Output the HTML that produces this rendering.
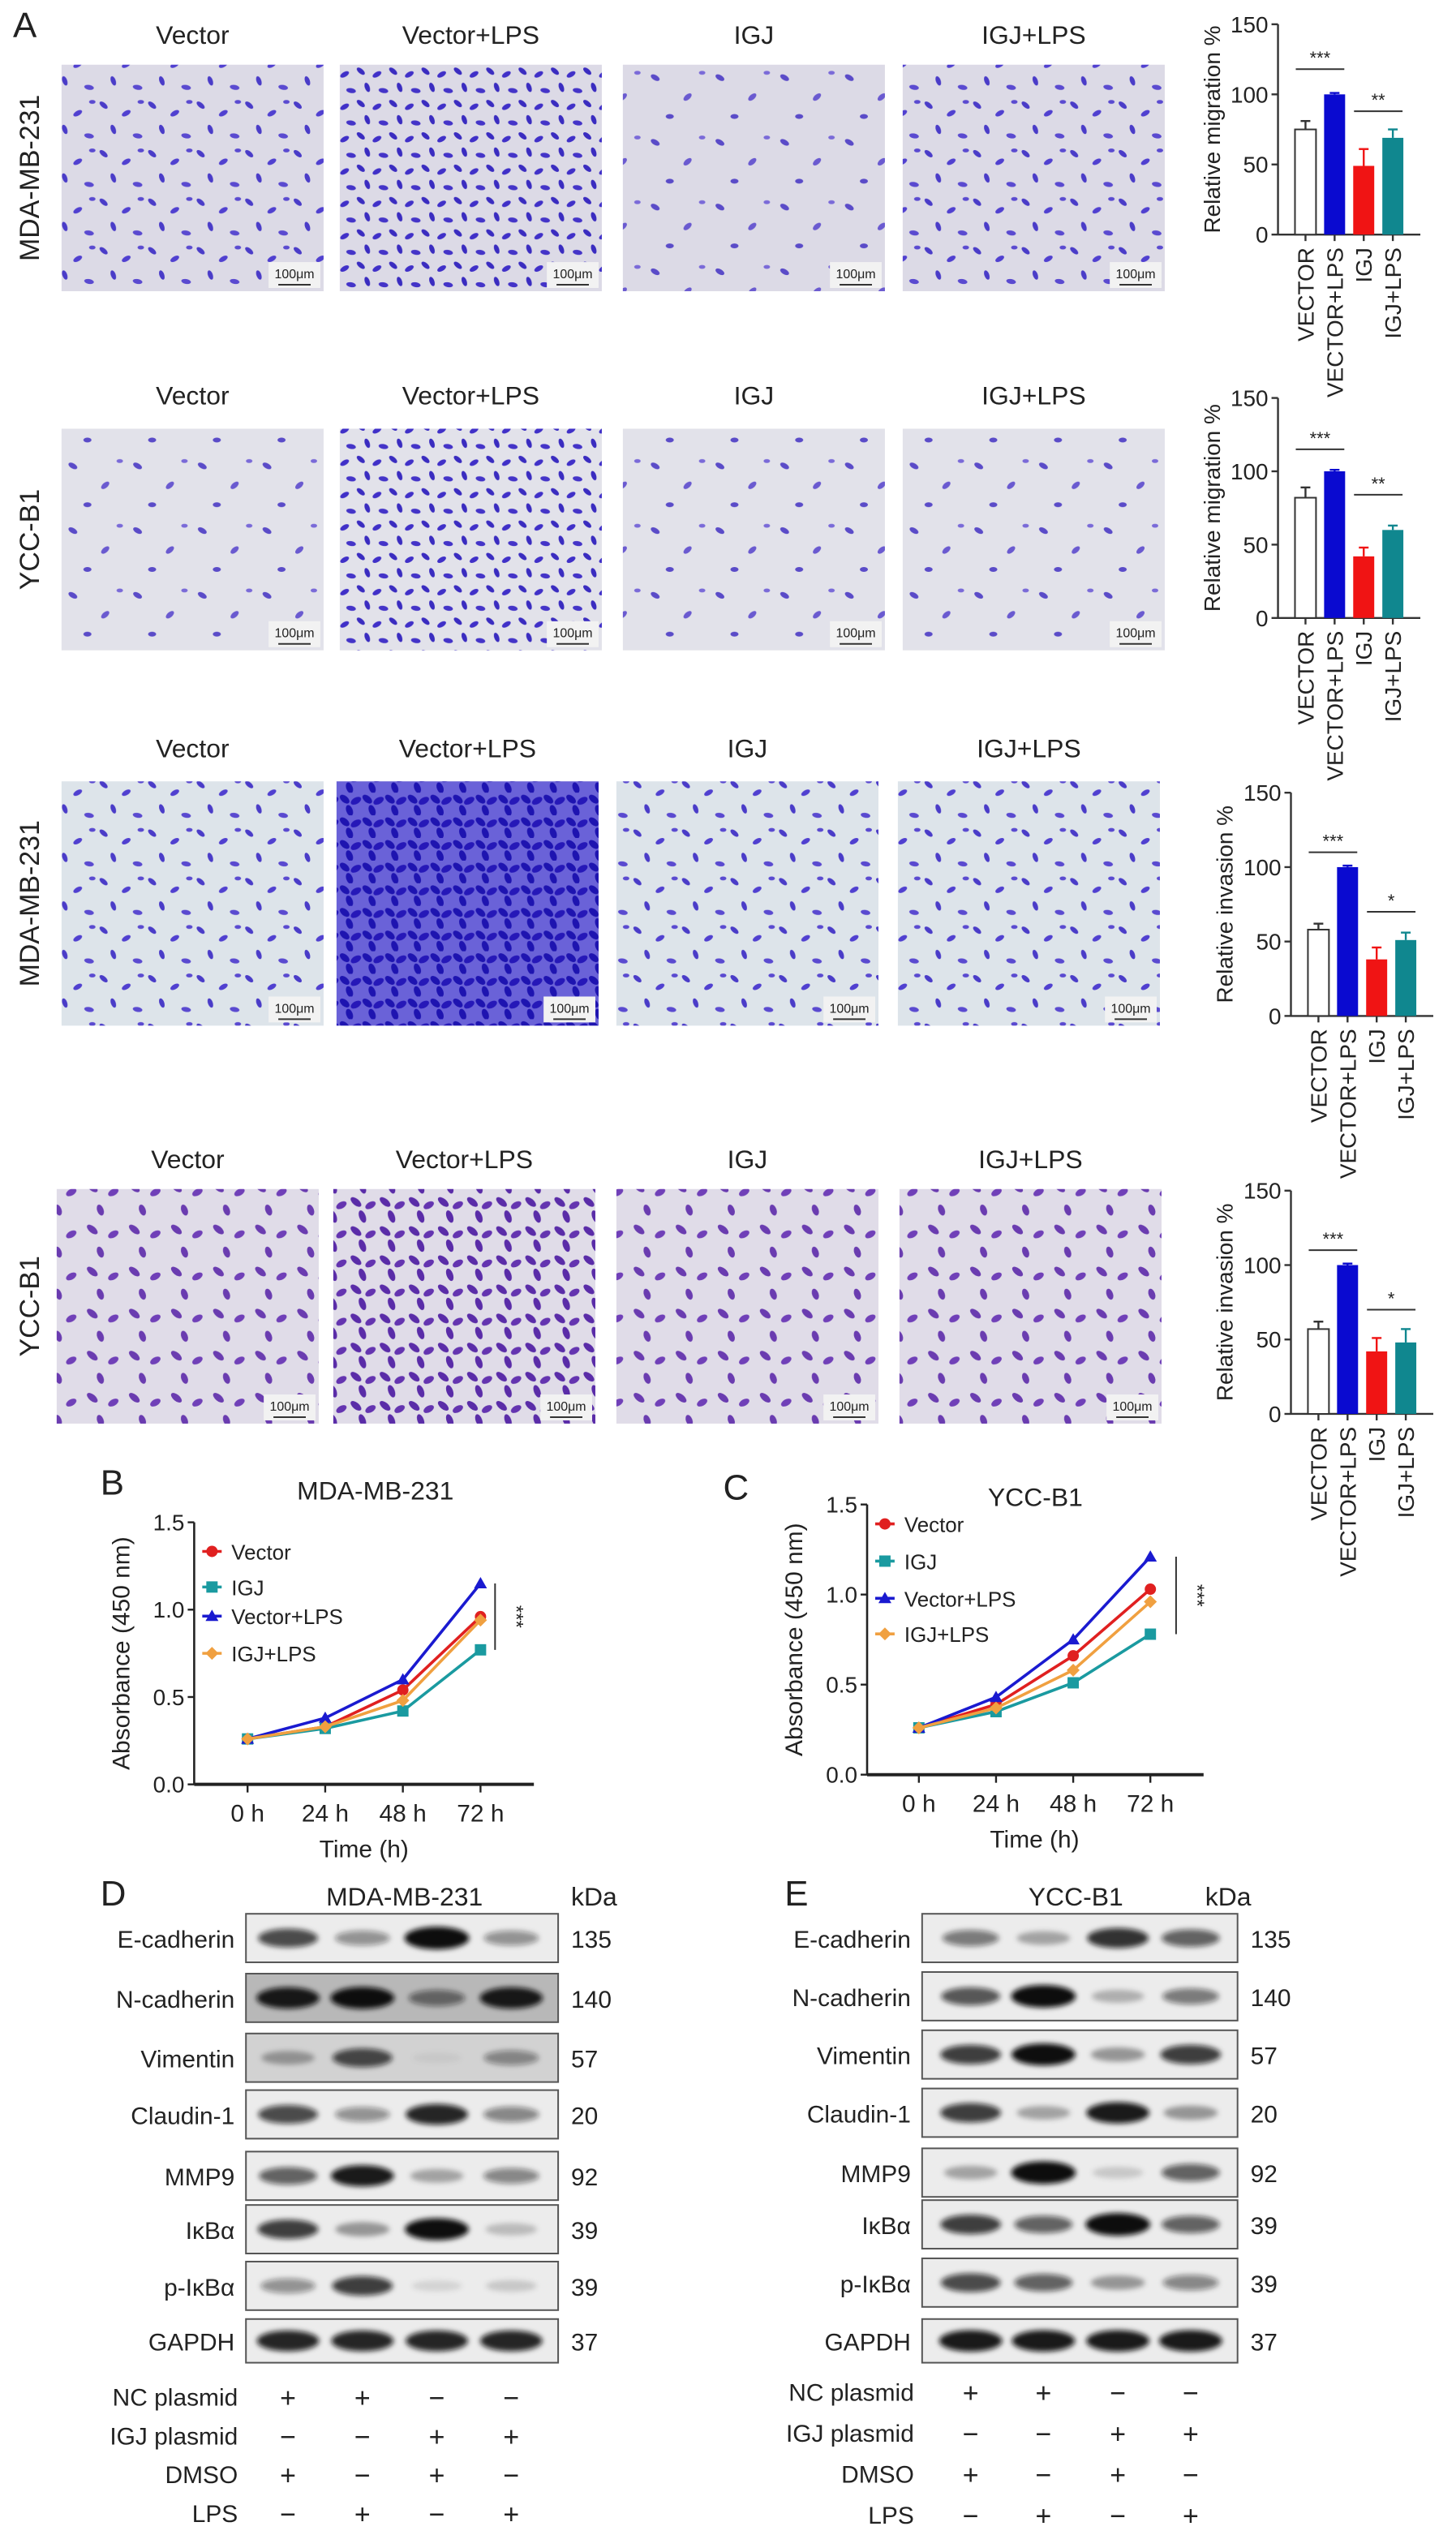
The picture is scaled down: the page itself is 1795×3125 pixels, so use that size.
<!DOCTYPE html>
<html><head><meta charset="utf-8">
<style>
html,body{margin:0;padding:0;background:#fff;}
svg{display:block;}
text{font-family:"Liberation Sans",sans-serif;fill:#222;}
</style></head>
<body>
<svg id="fig" width="1795" height="3125" viewBox="0 0 900 1567" xmlns="http://www.w3.org/2000/svg">
<defs>
<filter id="blur" x="-30%" y="-80%" width="160%" height="260%"><feGaussianBlur stdDeviation="1.6"/></filter>
<pattern id="p-sparse" width="40" height="40" patternUnits="userSpaceOnUse">
<ellipse cx="5" cy="8" rx="3" ry="1.6" fill="#5a4bc8" transform="rotate(30 5 8)"/>
<ellipse cx="25" cy="20" rx="3" ry="1.6" fill="#6a5ad0" transform="rotate(-40 25 20)"/>
<ellipse cx="14" cy="32" rx="2.5" ry="1.5" fill="#5a4bc8"/>
<ellipse cx="34" cy="5" rx="2" ry="1.2" fill="#7a6ad8"/>
</pattern>
<pattern id="p-medium" width="30" height="30" patternUnits="userSpaceOnUse">
<ellipse cx="4" cy="5" rx="3" ry="1.5" fill="#4a3cc8" transform="rotate(40 4 5)"/>
<ellipse cx="18" cy="10" rx="3" ry="1.5" fill="#5040d0" transform="rotate(-30 18 10)"/>
<ellipse cx="10" cy="20" rx="3" ry="1.5" fill="#4a3cc8" transform="rotate(70 10 20)"/>
<ellipse cx="25" cy="24" rx="3" ry="1.5" fill="#5a4ad0" transform="rotate(10 25 24)"/>
<ellipse cx="27" cy="3" rx="2" ry="1.2" fill="#5a4ad0"/>
</pattern>
<pattern id="p-dense" width="20" height="20" patternUnits="userSpaceOnUse">
<ellipse cx="3" cy="4" rx="3" ry="1.5" fill="#3a2cc0" transform="rotate(40 3 4)"/>
<ellipse cx="13" cy="6" rx="3" ry="1.5" fill="#4030c8" transform="rotate(-30 13 6)"/>
<ellipse cx="7" cy="14" rx="3" ry="1.5" fill="#3a2cc0" transform="rotate(70 7 14)"/>
<ellipse cx="17" cy="16" rx="3" ry="1.5" fill="#4434c8" transform="rotate(10 17 16)"/>
</pattern>
<pattern id="p-vdense" width="14" height="14" patternUnits="userSpaceOnUse">
<rect width="14" height="14" fill="#6a62d8"/>
<ellipse cx="3" cy="4" rx="3.5" ry="2" fill="#1e14b0" transform="rotate(40 3 4)"/>
<ellipse cx="10" cy="5" rx="3.5" ry="2" fill="#2618b8" transform="rotate(-30 10 5)"/>
<ellipse cx="6" cy="11" rx="3.5" ry="2" fill="#1e14b0" transform="rotate(70 6 11)"/>
</pattern>
<pattern id="p-violet" width="26" height="26" patternUnits="userSpaceOnUse">
<ellipse cx="5" cy="6" rx="4" ry="2" fill="#6a3cb0" transform="rotate(40 5 6)"/>
<ellipse cx="18" cy="9" rx="3.5" ry="2" fill="#7040b8" transform="rotate(-30 18 9)"/>
<ellipse cx="10" cy="20" rx="3.5" ry="2" fill="#6a3cb0" transform="rotate(70 10 20)"/>
</pattern>
<pattern id="p-violet-d" width="18" height="18" patternUnits="userSpaceOnUse">
<ellipse cx="4" cy="5" rx="4" ry="2" fill="#5a2ca8" transform="rotate(40 4 5)"/>
<ellipse cx="13" cy="7" rx="3.5" ry="2" fill="#6434b0" transform="rotate(-30 13 7)"/>
<ellipse cx="8" cy="14" rx="4" ry="2" fill="#5a2ca8" transform="rotate(70 8 14)"/>
</pattern>
</defs>
</svg>
<script>
// ---------- data ----------
const conditions = ['Vector','Vector+LPS','IGJ','IGJ+LPS'];
const barCats = ['VECTOR','VECTOR+LPS','IGJ','IGJ+LPS'];
const barTicks = [0,50,100,150];
const migMDA = [75,100,49,69];
const migMDAErr = [6,1,12,6];
const migYCC = [82,100,42,60];
const migYCCErr = [7,1,6,3];
const invMDA = [58,100,38,51];
const invMDAErr = [4,1,8,5];
const invYCC = [57,100,42,48];
const invYCCErr = [5,1,9,9];

const timeLabels = ['0 h','24 h','48 h','72 h'];
const absTicks = [0,0.5,1.0,1.5];
const seriesNames = ['Vector','IGJ','Vector+LPS','IGJ+LPS'];
const mdaVector = [0.26,0.33,0.54,0.96];
const mdaIGJ = [0.26,0.32,0.42,0.77];
const mdaVectorLPS = [0.26,0.38,0.60,1.15];
const mdaIGJLPS = [0.26,0.33,0.48,0.94];
const yccVector = [0.26,0.39,0.66,1.03];
const yccIGJ = [0.26,0.35,0.51,0.78];
const yccVectorLPS = [0.26,0.43,0.75,1.21];
const yccIGJLPS = [0.26,0.37,0.58,0.96];

const blotProteins = ['E-cadherin','N-cadherin','Vimentin','Claudin-1','MMP9','IκBα','p-IκBα','GAPDH'];
const blotKDa = ['135','140','57','20','92','39','39','37'];
const bandsMDA = [[0.7,0.4,1,0.4],[0.9,0.95,0.5,0.9],[0.3,0.7,0.05,0.4],[0.7,0.4,0.85,0.45],[0.6,0.9,0.3,0.45],[0.75,0.35,0.95,0.2],[0.4,0.75,0.1,0.15],[0.85,0.85,0.85,0.85]];
const bandsYCC = [[0.5,0.3,0.8,0.6],[0.65,1,0.25,0.5],[0.75,0.95,0.35,0.75],[0.75,0.3,0.9,0.35],[0.3,1,0.15,0.6],[0.75,0.6,1,0.6],[0.7,0.6,0.35,0.45],[0.9,0.9,0.9,0.9]];
const treatRows = ['NC plasmid','IGJ plasmid','DMSO','LPS'];
const treatSigns = [['+','+','−','−'],['−','−','+','+'],['+','−','+','−'],['−','+','−','+']];

// ---------- helpers ----------
const NS='http://www.w3.org/2000/svg';
const svg=document.getElementById('fig');
function mk(tag,attrs,parent){const e=document.createElementNS(NS,tag);for(const k in attrs)e.setAttribute(k,attrs[k]);(parent||svg).appendChild(e);return e;}
function txt(x,y,s,attrs,parent){const t=mk('text',Object.assign({x:x,y:y},attrs||{}),parent);t.textContent=s;return t;}

// ---------- panel letters ----------
[['A',8,23],['B',62,924],['C',447,927],['D',62,1178],['E',485,1178]].forEach(function(p){
  const t=txt(p[1],p[2],p[0],{'font-size':22});
  
  
});

// ---------- micrographs ----------
const rows=[
 {label:'MDA-MB-231',hy:27,y:40,h:140,xs:[38,210,385,558],w:162,pats:['p-medium','p-dense','p-sparse','p-medium'],bg:'#dcdae6'},
 {label:'YCC-B1',hy:250,y:265,h:137,xs:[38,210,385,558],w:162,pats:['p-sparse','p-dense','p-sparse','p-sparse'],bg:'#e2e2ea'},
 {label:'MDA-MB-231',hy:468,y:483,h:151,xs:[38,208,381,555],w:162,pats:['p-medium','p-vdense','p-medium','p-medium'],bg:'#dde4ea'},
 {label:'YCC-B1',hy:722,y:735,h:145,xs:[35,206,381,556],w:162,pats:['p-violet','p-violet-d','p-violet','p-violet'],bg:'#e0dce8'}
];
rows.forEach(function(r,ri){
  const g=mk('g',{});
  
  
  const sl=txt(0,0,r.label,{'font-size':17,'text-anchor':'middle',transform:'translate(24 '+(r.y+r.h/2)+') rotate(-90)'},g);
  
  
  r.xs.forEach(function(x,ci){
    const h=txt(x+r.w/2,r.hy,conditions[ci],{'font-size':16,'text-anchor':'middle'},g);
    
    
    const bg=mk('rect',{x:x,y:r.y,width:r.w,height:r.h,fill:r.bg},g);
    
    
    mk('rect',{x:x,y:r.y,width:r.w,height:r.h,fill:'url(#'+r.pats[ci]+')'},g);
    mk('rect',{x:x+r.w-34,y:r.y+r.h-18,width:32,height:16,fill:'#f2f2f2'},g);
    const sb=txt(x+r.w-18,r.y+r.h-8,'100μm',{'font-size':8,'text-anchor':'middle','font-family':'Liberation Serif'},g);
    
    
    mk('line',{x1:x+r.w-28,x2:x+r.w-8,y1:r.y+r.h-4,y2:r.y+r.h-4,stroke:'#333','stroke-width':1},g);
  });
});

// ---------- bar charts ----------
const barColors=['#ffffff','#0a0ad0','#f01414','#10878f'];
function barChart(cfg){
  const g=mk('g',{});
  
  
  const yS=function(v){return cfg.y0-(v/150)*(cfg.y0-cfg.y150);};
  mk('line',{x1:cfg.ax,x2:cfg.ax,y1:cfg.y150,y2:cfg.y0,stroke:'#333','stroke-width':1.2},g);
  mk('line',{x1:cfg.ax,x2:cfg.ax+88,y1:cfg.y0,y2:cfg.y0,stroke:'#333','stroke-width':1.2},g);
  barTicks.forEach(function(t){
    mk('line',{x1:cfg.ax-4,x2:cfg.ax,y1:yS(t),y2:yS(t),stroke:'#333','stroke-width':1.2},g);
    const tl=txt(cfg.ax-6,yS(t)+5,String(t),{'font-size':14,'text-anchor':'end'},g);
    
    
  });
  const yl=txt(0,0,cfg.ylabel,{'font-size':14,'text-anchor':'middle',transform:'translate('+(cfg.ax-36)+' '+yS(75)+') rotate(-90)'},g);
  
  
  cfg.vals.forEach(function(v,i){
    const cx=cfg.ax+17+i*18;
    mk('line',{x1:cx,x2:cx,y1:cfg.y0,y2:cfg.y0+4,stroke:'#333','stroke-width':1.2},g);
    const e=cfg.errs[i];
    mk('line',{x1:cx,x2:cx,y1:yS(v),y2:yS(v+e),stroke:barColors[i]==='#ffffff'?'#333':barColors[i],'stroke-width':1.2},g);
    mk('line',{x1:cx-3,x2:cx+3,y1:yS(v+e),y2:yS(v+e),stroke:barColors[i]==='#ffffff'?'#333':barColors[i],'stroke-width':1.2},g);
    const b=mk('rect',{x:cx-6.5,y:yS(v),width:13,height:cfg.y0-yS(v),fill:barColors[i],stroke:i===0?'#333':'none','stroke-width':1},g);
    
    
    const xl=txt(0,0,barCats[i],{'font-size':14,'text-anchor':'end',transform:'translate('+(cx+5)+' '+(cfg.y0+8)+') rotate(-90)'},g);
    
    
  });
  cfg.sig.forEach(function(s){
    const x1=cfg.ax+17+s[1]*18-6, x2=cfg.ax+17+s[2]*18+6, y=yS(s[3]);
    mk('line',{x1:x1,x2:x2,y1:y,y2:y,stroke:'#333','stroke-width':1},g);
    const st=txt((x1+x2)/2,y-3,s[0],{'font-size':11,'text-anchor':'middle'},g);
    
    
  });
}
barChart({name:'migration-chart-mda',ax:790,y150:15,y0:145,ylabel:'Relative migration %',vals:migMDA,errs:migMDAErr,sig:[['***',0,1,118],['**',2,3,88]]});
barChart({name:'migration-chart-ycc',ax:790,y150:246,y0:382,ylabel:'Relative migration %',vals:migYCC,errs:migYCCErr,sig:[['***',0,1,115],['**',2,3,84]]});
barChart({name:'invasion-chart-mda',ax:798,y150:490,y0:628,ylabel:'Relative invasion %',vals:invMDA,errs:invMDAErr,sig:[['***',0,1,110],['*',2,3,70]]});
barChart({name:'invasion-chart-ycc',ax:798,y150:736,y0:874,ylabel:'Relative invasion %',vals:invYCC,errs:invYCCErr,sig:[['***',0,1,110],['*',2,3,70]]});

// ---------- line charts ----------
const lineColors=['#e02020','#1a9aa0','#1a1ad0','#f0a040'];
function marker(g,k,x,y,c){
  if(k===0)mk('circle',{cx:x,cy:y,r:3.5,fill:c},g);
  else if(k===1)mk('rect',{x:x-3.5,y:y-3.5,width:7,height:7,fill:c},g);
  else if(k===2)mk('path',{d:'M'+x+' '+(y-4)+'L'+(x+4)+' '+(y+3)+'L'+(x-4)+' '+(y+3)+'Z',fill:c},g);
  else mk('path',{d:'M'+x+' '+(y-4)+'L'+(x+4)+' '+y+'L'+x+' '+(y+4)+'L'+(x-4)+' '+y+'Z',fill:c},g);
}
function lineChart(cfg){
  const g=mk('g',{});
  
  
  const yS=function(v){return cfg.y0-(v/1.5)*(cfg.y0-cfg.y15);};
  const xS=function(i){return cfg.x0+i*cfg.dx;};
  const tt=txt(cfg.titleX,cfg.titleY,cfg.title,{'font-size':16,'text-anchor':'middle'},g);
  
  
  mk('line',{x1:cfg.ax,x2:cfg.ax,y1:cfg.y15,y2:cfg.y0,stroke:'#222','stroke-width':1.3},g);
  mk('line',{x1:cfg.ax,x2:cfg.xend,y1:cfg.y0,y2:cfg.y0,stroke:'#222','stroke-width':2},g);
  absTicks.forEach(function(t){
    mk('line',{x1:cfg.ax-4,x2:cfg.ax,y1:yS(t),y2:yS(t),stroke:'#222','stroke-width':1.2},g);
    const tl=txt(cfg.ax-6,yS(t)+5,t.toFixed(1),{'font-size':14,'text-anchor':'end'},g);
    
    
  });
  timeLabels.forEach(function(l,i){
    mk('line',{x1:xS(i),x2:xS(i),y1:cfg.y0,y2:cfg.y0+5,stroke:'#222','stroke-width':1.2},g);
    const tl=txt(xS(i),cfg.y0+23,l,{'font-size':15,'text-anchor':'middle'},g);
    
    
  });
  const xt=txt(cfg.x0+1.5*cfg.dx,cfg.y0+45,'Time (h)',{'font-size':15,'text-anchor':'middle'},g);
  
  
  const yt=txt(0,0,'Absorbance (450 nm)',{'font-size':15,'text-anchor':'middle',transform:'translate('+(cfg.ax-40)+' '+yS(0.75)+') rotate(-90)'},g);
  
  
  cfg.series.forEach(function(s,k){
    let d='';
    s.forEach(function(v,i){d+=(i?'L':'M')+xS(i)+' '+yS(v);});
    const p=mk('path',{d:d,fill:'none',stroke:lineColors[k],'stroke-width':1.8},g);
    
    
    s.forEach(function(v,i){marker(g,k,xS(i),yS(v),lineColors[k]);});
    const ly=cfg.legY[k];
    mk('line',{x1:cfg.legX-6,x2:cfg.legX+6,y1:ly,y2:ly,stroke:lineColors[k],'stroke-width':1.8},g);
    marker(g,k,cfg.legX,ly,lineColors[k]);
    const lt=txt(cfg.legX+12,ly+5,seriesNames[k],{'font-size':13},g);
    
    
  });
  const top=Math.max.apply(null,cfg.series.map(function(s){return s[3];}));
  const bot=Math.min.apply(null,cfg.series.map(function(s){return s[3];}));
  mk('line',{x1:cfg.sigX,x2:cfg.sigX,y1:yS(top),y2:yS(bot),stroke:'#333','stroke-width':1},g);
  const st=txt(0,0,'***',{'font-size':12,'text-anchor':'middle',transform:'translate('+(cfg.sigX+9)+' '+yS((top+bot)/2)+') rotate(90)'},g);
  
  
}
lineChart({name:'proliferation-chart-mda',title:'MDA-MB-231',titleX:232,titleY:927,ax:120,y15:941,y0:1103,x0:153,dx:48,xend:330,series:[mdaVector,mdaIGJ,mdaVectorLPS,mdaIGJLPS],legX:131,legY:[959,981,999,1022],sigX:306});
lineChart({name:'proliferation-chart-ycc',title:'YCC-B1',titleX:640,titleY:931,ax:536,y15:930,y0:1097,x0:568,dx:47.7,xend:744,series:[yccVector,yccIGJ,yccVectorLPS,yccIGJLPS],legX:547,legY:[942,965,988,1010],sigX:727});

// ---------- western blots ----------
function blot(cfg){
  const g=mk('g',{});
  
  
  const tt=txt(cfg.titleX,1178,cfg.title,{'font-size':16,'text-anchor':'middle'},g);
  
  
  const kd=txt(cfg.kdaX,1178,'kDa',{'font-size':16},g);
  
  
  cfg.rowsY.forEach(function(ry,ri){
    const h=ri===7?27:30;
    const bgc=ri===1&&cfg.name==='blot-mda'?'#b8b8b8':(ri===2&&cfg.name==='blot-mda'?'#d2d2d2':'#ececec');
    const box=mk('rect',{x:cfg.x1,y:ry-h/2,width:cfg.x2-cfg.x1,height:h,fill:bgc,stroke:'#555','stroke-width':1},g);
    
    
    cfg.bands[ri].forEach(function(v,li){
      const b=mk('ellipse',{cx:cfg.lanes[li],cy:ry,rx:15+v*5,ry:3+v*4,fill:'#111','fill-opacity':Math.min(1,v*1.05),filter:'url(#blur)'},g);
      
      
    });
    const pl=txt(cfg.x1-7,ry+6,blotProteins[ri],{'font-size':15,'text-anchor':'end'},g);
    
    
    const kl=txt(cfg.x2+8,ry+6,blotKDa[ri],{'font-size':15},g);
    
    
  });
  treatRows.forEach(function(r,ri){
    const y=cfg.treatY+ri*cfg.treatDy;
    const tl=txt(cfg.x1-5,y+5,r,{'font-size':15,'text-anchor':'end'},g);
    
    
    treatSigns[ri].forEach(function(s,li){
      const st=txt(cfg.lanes[li],y+6,s,{'font-size':17,'text-anchor':'middle'},g);
      
      
    });
  });
}
blot({name:'blot-mda',title:'MDA-MB-231',titleX:250,kdaX:353,x1:152,x2:345,lanes:[178,224,270,316],rowsY:[1198,1235,1272,1307,1345,1378,1413,1447],bands:bandsMDA,treatY:1482,treatDy:24});
blot({name:'blot-ycc',title:'YCC-B1',titleX:665,kdaX:745,x1:570,x2:765,lanes:[600,645,691,736],rowsY:[1198,1234,1270,1306,1343,1375,1411,1447],bands:bandsYCC,treatY:1479,treatDy:25.3});
</script>
</body></html>
